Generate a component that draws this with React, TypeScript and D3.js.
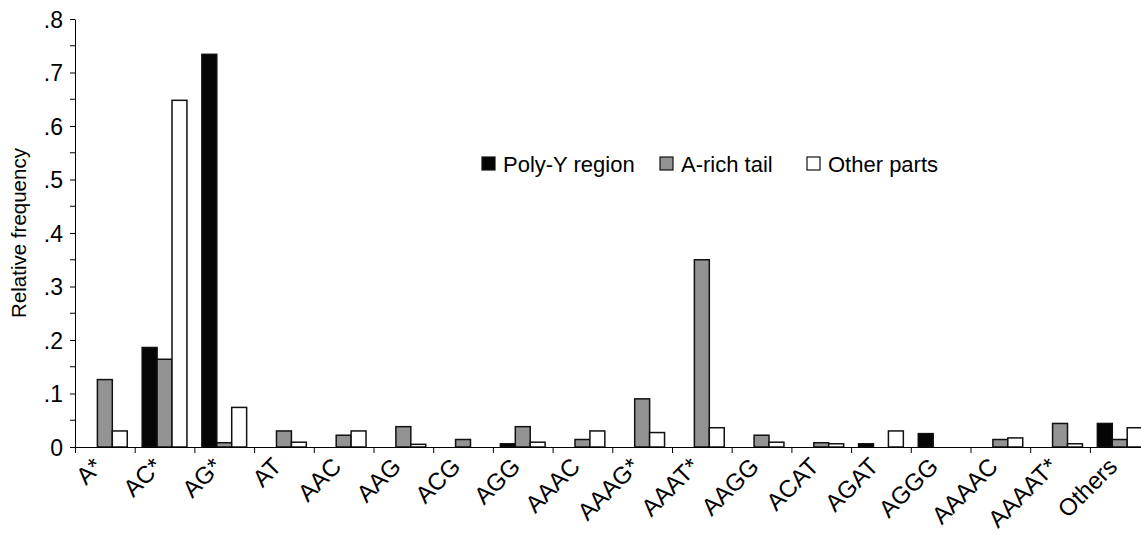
import React, { useEffect, useRef } from 'react';
import * as d3 from 'd3';

const categories = ['A*', 'AC*', 'AG*', 'AT', 'AAC', 'AAG', 'ACG', 'AGG', 'AAAC', 'AAAG*', 'AAAT*', 'AAGG', 'ACAT', 'AGAT', 'AGGG', 'AAAAC', 'AAAAT*', 'Others'];
const seriesNames = ['Poly-Y region', 'A-rich tail', 'Other parts'];
const polyY = [0, 0.186, 0.734, 0, 0, 0, 0, 0.006, 0, 0, 0, 0, 0, 0.006, 0.025, 0, 0, 0.044];
const aRichTail = [0.126, 0.164, 0.008, 0.030, 0.022, 0.038, 0.014, 0.038, 0.014, 0.090, 0.350, 0.022, 0.008, 0, 0, 0.014, 0.044, 0.014];
const otherParts = [0.030, 0.648, 0.074, 0.009, 0.030, 0.005, 0, 0.009, 0.030, 0.027, 0.036, 0.009, 0.006, 0.030, 0, 0.017, 0.006, 0.036];
const yTicks = [0, 0.1, 0.2, 0.3, 0.4, 0.5, 0.6, 0.7, 0.8];
const yMinorTicks = [0.05, 0.15, 0.25, 0.35, 0.45, 0.55, 0.65, 0.75];

const dims = {
    width: 1141,
    height: 535,
    left: 75,
    top: 19,
    bottom: 447,
    step: 59.7,
};

const fills = ['#050505', '#939393', '#ffffff'];
const font = '"Liberation Sans", Arial, sans-serif';

const App = () => {
    const ref = useRef<SVGSVGElement>(null);

    useEffect(() => {
        if (!ref.current) return;
        const svg = d3.select(ref.current);
        svg.selectAll('*').remove();

        const series = [polyY, aRichTail, otherParts];

        const x = d3.scaleBand<string>()
            .domain(categories)
            .range([dims.left, dims.left + dims.step * categories.length]);
        const bw = x.bandwidth();
        const xs = d3.scaleBand<number>()
            .domain([0, 1, 2])
            .range([bw * 0.125, bw * 0.875]);

        const y = d3.scaleLinear().domain([0, 0.8]).range([dims.bottom, dims.top]);

        // bars
        series.forEach((vals, si) => {
            svg.append('g')
                .selectAll('rect')
                .data(vals.map((v, i) => ({ v, c: categories[i] })).filter(d => d.v > 0))
                .join('rect')
                .attr('x', d => (x(d.c) as number) + (xs(si) as number))
                .attr('y', d => y(d.v))
                .attr('width', xs.bandwidth())
                .attr('height', d => y(0) - y(d.v))
                .attr('fill', fills[si])
                .attr('stroke', '#111')
                .attr('stroke-width', 1.5);
        });

        // y axis
        const yAxis = d3.axisLeft(y)
            .tickValues(yTicks)
            .tickSize(5)
            .tickSizeOuter(0)
            .tickPadding(7)
            .tickFormat((d: any) => (d === 0 ? '0' : d3.format('.1f')(d).replace('0.', '.')));
        const yg = svg.append('g')
            .attr('transform', `translate(${dims.left},0)`)
            .call(yAxis);
        yg.selectAll('text')
            .style('font-family', font)
            .style('font-size', '23px')
            .attr('fill', '#000')
            .attr('dy', '0.36em');
        yg.selectAll('line, path').attr('stroke', '#000');

        svg.append('g')
            .attr('transform', `translate(${dims.left},0)`)
            .selectAll('line')
            .data(yMinorTicks)
            .join('line')
            .attr('x1', -5)
            .attr('x2', 0)
            .attr('y1', d => y(d))
            .attr('y2', d => y(d))
            .attr('stroke', '#000');

        // x axis with ticks at category boundaries
        const xb = d3.scaleLinear()
            .domain([0, categories.length])
            .range([dims.left, dims.left + dims.step * categories.length]);
        const xg = svg.append('g')
            .attr('transform', `translate(0,${dims.bottom})`)
            .call(d3.axisBottom(xb).tickValues(d3.range(0, categories.length + 1)).tickSize(6).tickSizeOuter(0).tickFormat(() => ''));
        xg.selectAll('line, path').attr('stroke', '#000');

        svg.append('g')
            .selectAll('text')
            .data(categories)
            .join('text')
            .attr('transform', d => `translate(${(x(d) as number) + bw / 2 - 1},${dims.bottom + 21}) rotate(-45)`)
            .attr('text-anchor', 'end')
            .style('font-family', font)
            .style('font-size', '24px')
            .attr('fill', '#000')
            .text(d => d);

        // y title
        svg.append('text')
            .attr('transform', `translate(26,${(dims.top + dims.bottom) / 2}) rotate(-90)`)
            .attr('text-anchor', 'middle')
            .style('font-family', font)
            .style('font-size', '20.5px')
            .attr('fill', '#000')
            .text('Relative frequency');

        // legend
        const legendX = [482, 660, 807];
        const lg = svg.append('g');
        seriesNames.forEach((name, i) => {
            lg.append('rect')
                .attr('x', legendX[i])
                .attr('y', 157)
                .attr('width', 13)
                .attr('height', 13)
                .attr('fill', fills[i])
                .attr('stroke', '#111')
                .attr('stroke-width', 1.2);
            lg.append('text')
                .attr('x', legendX[i] + 21)
                .attr('y', 172)
                .style('font-family', font)
                .style('font-size', '22px')
                .attr('fill', '#000')
                .text(name);
        });
    }, []);

    return (
        <div style={{ position: 'absolute', left: 0, top: 0, width: dims.width, height: dims.height, background: '#fff' }}>
            <svg ref={ref} width={dims.width} height={dims.height} style={{ display: 'block' }} />
        </div>
    );
};

export default App;
